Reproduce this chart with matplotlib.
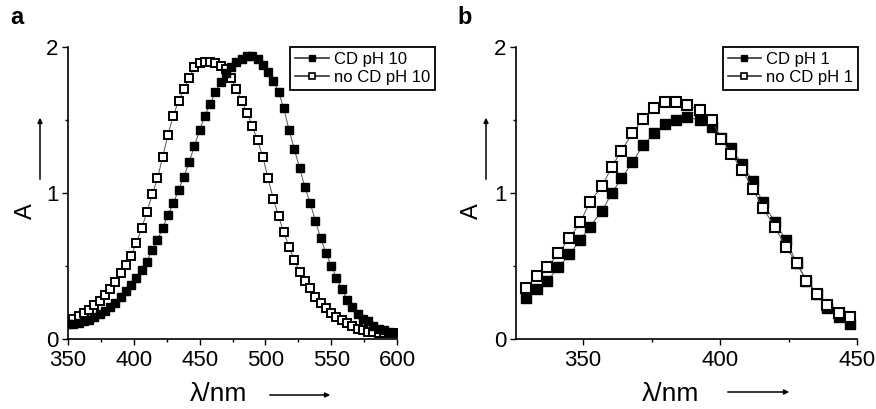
import matplotlib
matplotlib.use("Agg")
import matplotlib.pyplot as plt
from matplotlib.lines import Line2D
from matplotlib.patches import FancyArrowPatch
from matplotlib.ticker import MultipleLocator

plt.rcParams['font.family'] = ['Liberation Sans', 'DejaVu Sans']

# panel a: pH 10
wl_a = [350, 354, 358, 362, 366, 370, 374, 378, 382, 386, 390, 394, 398,
        402, 406, 410, 414, 418, 422, 426, 430, 434, 438, 442, 446, 450,
        454, 458, 462, 466, 470, 474, 478, 482, 486, 490, 494, 498, 502,
        506, 510, 514, 518, 522, 526, 530, 534, 538, 542, 546, 550, 554,
        558, 562, 566, 570, 574, 578, 582, 586, 590, 594, 598]
cd_ph10 = [0.10, 0.10, 0.11, 0.12, 0.13, 0.15, 0.17, 0.19, 0.22, 0.25, 0.29, 0.33, 0.37,
           0.42, 0.47, 0.53, 0.61, 0.68, 0.76, 0.85, 0.93, 1.02, 1.11, 1.21, 1.32, 1.43,
           1.53, 1.61, 1.69, 1.76, 1.82, 1.86, 1.90, 1.92, 1.94, 1.94, 1.92, 1.88, 1.83,
           1.77, 1.69, 1.58, 1.43, 1.30, 1.17, 1.04, 0.93, 0.81, 0.69, 0.59, 0.50, 0.42,
           0.34, 0.27, 0.22, 0.17, 0.14, 0.12, 0.09, 0.07, 0.06, 0.05, 0.04]
nocd_ph10 = [0.13, 0.14, 0.16, 0.18, 0.20, 0.23, 0.26, 0.30, 0.34, 0.39, 0.45, 0.51, 0.57,
             0.66, 0.76, 0.87, 0.99, 1.10, 1.25, 1.40, 1.53, 1.63, 1.71, 1.79, 1.86, 1.89,
             1.90, 1.90, 1.89, 1.87, 1.85, 1.79, 1.71, 1.63, 1.55, 1.46, 1.36, 1.25, 1.10,
             0.96, 0.84, 0.73, 0.63, 0.54, 0.46, 0.40, 0.35, 0.29, 0.25, 0.21, 0.18, 0.15,
             0.13, 0.11, 0.09, 0.07, 0.06, 0.05, 0.05, 0.04, 0.04, 0.04, 0.04]

# panel b: pH 1
wl_b = [329, 333, 337, 341, 345, 349, 352.5, 357, 360.5, 364, 368, 372, 376, 380,
        384, 388, 392.5, 397, 400.5, 404, 408, 412, 415.5, 420, 424, 428, 431.5,
        435.5, 439, 443.5, 447.5]
cd_ph1 = [0.28, 0.34, 0.40, 0.49, 0.58, 0.68, 0.77, 0.88, 1.00, 1.10, 1.21, 1.33, 1.41, 1.47,
          1.50, 1.52, 1.50, 1.45, 1.38, 1.31, 1.20, 1.08, 0.94, 0.80, 0.68, 0.52, 0.40,
          0.31, 0.21, 0.15, 0.10]
nocd_ph1 = [0.35, 0.43, 0.49, 0.59, 0.69, 0.80, 0.94, 1.05, 1.18, 1.29, 1.41, 1.51, 1.58, 1.62,
            1.62, 1.60, 1.57, 1.50, 1.37, 1.27, 1.16, 1.03, 0.90, 0.77, 0.63, 0.52, 0.40,
            0.31, 0.23, 0.18, 0.15]

W, H = 876, 409


def px(x, y):
    return (x / W, 1 - y / H)


fig = plt.figure(figsize=(W / 100, H / 100), dpi=100)
ax_a = fig.add_axes([68 / W, 1 - 339 / H, (397 - 68) / W, (339 - 47) / H])
ax_b = fig.add_axes([516 / W, 1 - 339 / H, (857 - 516) / W, (339 - 47) / H])

line_kw = dict(color='#555555', lw=0.7, marker='s', mec='black')

ax_a.plot(wl_a, nocd_ph10, mfc='white', ms=6.2, mew=1.4, **line_kw)
ax_a.plot(wl_a, cd_ph10, mfc='black', ms=6.2, mew=1.0, **line_kw)
ax_b.plot(wl_b, cd_ph1, mfc='black', ms=7.5, mew=1.0, **line_kw)
ax_b.plot(wl_b, nocd_ph1, mfc='white', ms=7.5, mew=1.5, **line_kw)

ax_a.set_xlim(350, 600)
ax_b.set_xlim(325.5, 450)
for ax in (ax_a, ax_b):
    ax.set_ylim(0, 2)
    ax.set_yticks([0, 1, 2])
    ax.yaxis.set_minor_locator(MultipleLocator(0.5))
    ax.xaxis.set_minor_locator(MultipleLocator(25))
    ax.spines['top'].set_visible(False)
    ax.spines['right'].set_visible(False)
    for s in ('left', 'bottom'):
        ax.spines[s].set_linewidth(1.2)
    ax.tick_params(which='major', length=4, width=1, labelsize=16)
    ax.tick_params(axis='y', which='major', pad=3)
    ax.tick_params(axis='x', which='major', pad=4)
    ax.tick_params(which='minor', length=2.5, width=1)
ax_a.set_xticks([350, 400, 450, 500, 550, 600])
ax_b.set_xticks([350, 400, 450])


def handles(lbl_filled, lbl_open):
    h1 = Line2D([], [], color='#333333', lw=1.2, marker='s', ms=5, mfc='black', mec='black')
    h2 = Line2D([], [], color='#333333', lw=1.2, marker='s', ms=5, mfc='white', mec='black', mew=1.2)
    return [h1, h2], [lbl_filled, lbl_open]


for ax, right, labs in ((ax_a, 435, ('CD pH 10', 'no CD pH 10')),
                        (ax_b, 858, ('CD pH 1', 'no CD pH 1'))):
    hs, ls = handles(*labs)
    leg = ax.legend(hs, ls, loc='upper right', bbox_to_anchor=px(right, 47),
                    bbox_transform=fig.transFigure, borderaxespad=0, fontsize=12,
                    fancybox=False, framealpha=1, edgecolor='black',
                    handlelength=2.0, handletextpad=0.3, labelspacing=0.2,
                    borderpad=0.3)
    leg.get_frame().set_linewidth(1.3)

# axis labels with arrows
for ylab_x, arr_x, xlab_x, arr_x0, arr_x1, arr_y in ((26, 40, 218, 267, 333, 395),
                                                       (472, 486, 670, 725, 792, 392)):
    fig.text(*px(ylab_x, 211), 'A', rotation=90, ha='center', va='center', fontsize=17)
    fig.add_artist(FancyArrowPatch(px(arr_x, 182), px(arr_x, 115), transform=fig.transFigure,
                                   arrowstyle='-|>', mutation_scale=7, lw=1.1, color='black'))
    fig.text(*px(xlab_x, 394), 'λ/nm', ha='center', va='center', fontsize=19)
    fig.add_artist(FancyArrowPatch(px(arr_x0, arr_y), px(arr_x1, arr_y), transform=fig.transFigure,
                                   arrowstyle='-|>', mutation_scale=7, lw=1.1, color='black'))

fig.text(*px(10, 18), 'a', fontsize=17, fontweight='bold', ha='left', va='center')
fig.text(*px(457, 18), 'b', fontsize=17, fontweight='bold', ha='left', va='center')

fig.savefig('out.png', dpi=100)
